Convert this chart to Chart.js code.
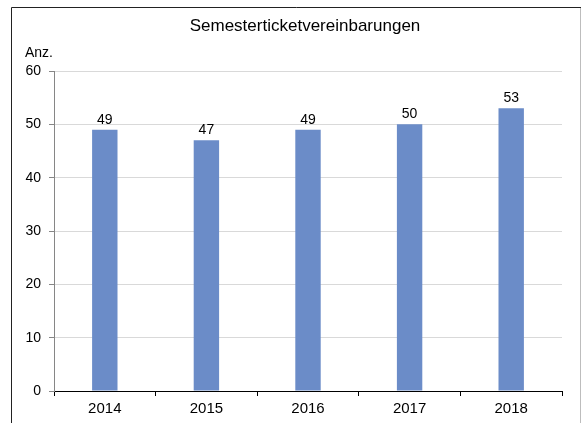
<!DOCTYPE html>
<html>
<head>
<meta charset="utf-8">
<script src="https://cdn.jsdelivr.net/npm/chart.js@4.4.0/dist/chart.umd.min.js"></script>
<style>
  body { margin: 0; background: #fff; }
  #wrap { width: 582px; height: 423px; }
</style>
</head>
<body>
<div id="wrap"><canvas id="myChart" width="582" height="423"></canvas></div>
<script>
// years and number of agreements per year
var years = ['2014', '2015', '2016', '2017', '2018'];
var counts = [49, 47, 49, 50, 53];
var yTicks = [0, 10, 20, 30, 40, 50, 60];

var fontFam = "'Liberation Sans', Arial, sans-serif";

// white background and the thin frame round the chart
var frame = {
  id: 'frame',
  beforeDraw: function(chart){
    var ctx = chart.ctx;
    ctx.save();
    ctx.fillStyle = '#fff';
    ctx.fillRect(0, 0, chart.width, chart.height);
    ctx.lineWidth = 1;
    ctx.strokeStyle = '#bdbdbd';
    ctx.beginPath();
    ctx.moveTo(580.5, 8); ctx.lineTo(580.5, 423);
    ctx.stroke();
    ctx.strokeStyle = '#222';
    ctx.beginPath();
    ctx.moveTo(11.5, 423); ctx.lineTo(11.5, 7.5); ctx.lineTo(581, 7.5);
    ctx.stroke();
    ctx.restore();
  },
  afterDraw: function(chart){
    var ctx = chart.ctx;
    ctx.save();
    ctx.fillStyle = '#000';
    ctx.textBaseline = 'alphabetic';
    ctx.textAlign = 'center';
    ctx.font = '17px ' + fontFam;
    ctx.fillText('Semesterticketvereinbarungen', 305, 31);
    ctx.textAlign = 'left';
    ctx.font = '14px ' + fontFam;
    ctx.fillText('Anz.', 25, 57);
    ctx.restore();
  }
};

// value above every bar
var barValues = {
  id: 'barValues',
  afterDatasetsDraw: function(chart){
    var ctx = chart.ctx;
    var meta = chart.getDatasetMeta(0);
    ctx.save();
    ctx.fillStyle = '#000';
    ctx.font = '14px ' + fontFam;
    ctx.textAlign = 'center';
    ctx.textBaseline = 'alphabetic';
    meta.data.forEach(function(bar, i){
      ctx.fillText(chart.data.datasets[0].data[i], bar.x, bar.y - 6);
    });
    ctx.restore();
  }
};

var ctx = document.getElementById('myChart').getContext('2d');
var myChart = new Chart(ctx, {
  type: 'bar',
  data: {
    labels: years,
    datasets: [{
      data: counts,
      backgroundColor: '#6B8CC8',
      categoryPercentage: 1,
      barPercentage: 0.25
    }]
  },
  options: {
    responsive: false,
    animation: false,
    layout: { padding: { top: 71, right: 20, left: 0, bottom: 0 } },
    plugins: { legend: { display: false }, tooltip: { enabled: false }, title: { display: false } },
    scales: {
      x: {
        grid: { offset: true, drawOnChartArea: false, tickLength: 5, color: '#000' },
        border: { color: '#000' },
        ticks: { color: '#000', font: { size: 15, family: fontFam }, padding: 4 },
        afterFit: function(s){ s.height = 32; }
      },
      y: {
        min: 0,
        max: 60,
        afterBuildTicks: function(s){ s.ticks = yTicks.map(function(v){ return { value: v }; }); },
        grid: { color: '#d9d9d9', tickColor: '#868686', tickLength: 5 },
        border: { color: '#868686' },
        ticks: { color: '#000', font: { size: 14, family: fontFam }, padding: 8 },
        afterFit: function(s){ s.width = 54; }
      }
    }
  },
  plugins: [frame, barValues]
});
</script>
</body>
</html>
